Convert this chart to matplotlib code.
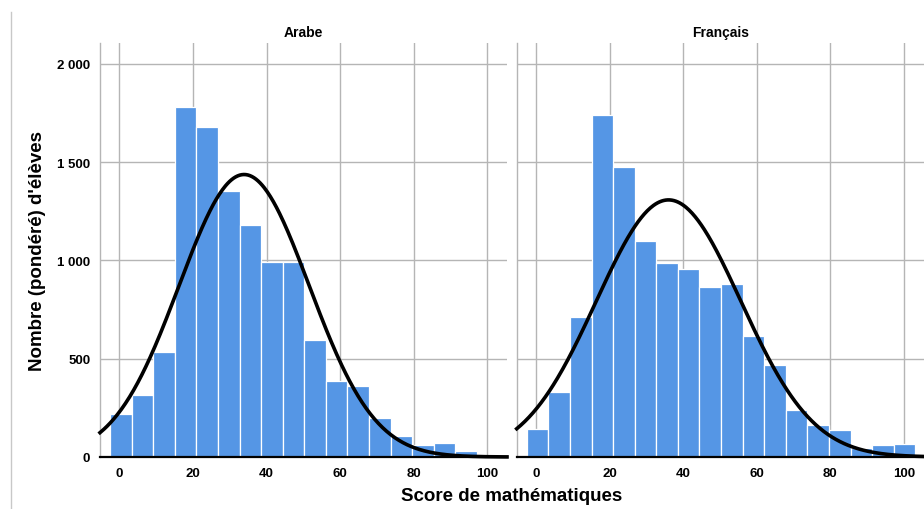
#!/usr/bin/env python
# -*- coding: utf-8 -*-
# Histogrammes des scores de mathématiques par langue, avec courbe normale

import numpy as np
import matplotlib.pyplot as plt
from matplotlib.lines import Line2D

plt.rcParams['font.family'] = ['Liberation Sans', 'DejaVu Sans']

## data
BIN_START = -2.55
BIN_WIDTH = 5.87

arabe_counts = [219, 316, 536, 1783, 1681, 1352, 1181, 991, 994, 595,
                385, 361, 198, 109, 63, 70, 31]
francais_counts = [142, 329, 710, 1739, 1478, 1100, 985, 956, 863, 880,
                   617, 468, 239, 164, 137, 44, 61, 66]

arabe_mean, arabe_sd = 33.9, 17.7
francais_mean, francais_sd = 36.0, 19.65

panel_titles = ["Arabe", "Français"]
x_ticks = [0, 20, 40, 60, 80, 100]
y_ticks = [0, 500, 1000, 1500, 2000]
y_ticklabels = ["0", "500", "1 000", "1 500", "2 000"]

BAR_COLOR = "#5596e5"
GRID_COLOR = "#b5b5b5"
XLIM = (-5.3, 105.4)
YLIM = (0, 2107)


def draw_panel(ax, counts, mean, sd, title, show_y):
    edges = BIN_START + BIN_WIDTH * np.arange(len(counts) + 1)
    ax.bar(edges[:-1], counts, width=BIN_WIDTH, align="edge",
           color=BAR_COLOR, edgecolor="white", linewidth=0.9, zorder=2)

    # normal curve scaled to counts
    n = sum(counts)
    x = np.linspace(XLIM[0], XLIM[1], 400)
    y = n * BIN_WIDTH * np.exp(-0.5 * ((x - mean) / sd) ** 2) / (sd * np.sqrt(2 * np.pi))
    ax.plot(x, y, color="black", linewidth=2.6, zorder=3, clip_on=False)

    ax.set_xlim(*XLIM)
    ax.set_ylim(*YLIM)
    ax.set_xticks(x_ticks)
    ax.set_yticks(y_ticks)
    ax.grid(True, color=GRID_COLOR, linewidth=1.0, zorder=0)
    ax.set_axisbelow(True)
    ax.tick_params(length=0, pad=7, labelsize=9.5)
    for lab in ax.get_xticklabels():
        lab.set_fontweight("bold")
    if show_y:
        ax.set_yticklabels(y_ticklabels, fontweight="bold")
    else:
        ax.set_yticklabels([])

    for s in ["top", "right"]:
        ax.spines[s].set_visible(False)
    ax.spines["left"].set_color(GRID_COLOR)
    ax.spines["left"].set_linewidth(1.0)
    ax.spines["bottom"].set_color("black")
    ax.spines["bottom"].set_linewidth(1.6)
    ax.set_title(title, fontsize=10, fontweight="bold", pad=5)


fig = plt.figure(figsize=(9.24, 5.10), dpi=100)
ax1 = fig.add_axes([0.1082, 0.102, 0.4405, 0.8118])
ax2 = fig.add_axes([0.5592, 0.102, 0.4405, 0.8118])

draw_panel(ax1, arabe_counts, arabe_mean, arabe_sd, panel_titles[0], True)
draw_panel(ax2, francais_counts, francais_mean, francais_sd, panel_titles[1], False)

fig.text(38 / 924, 0.508, "Nombre (pondéré) d'élèves", rotation=90,
         ha="center", va="center", fontsize=13.5, fontweight="bold")
fig.text(512 / 924, 1 - 497 / 510, "Score de mathématiques",
         ha="center", va="center", fontsize=13.5, fontweight="bold")

# frame border on the left
fig.add_artist(Line2D([11 / 924, 11 / 924], [0, 1 - 13 / 510],
                      color="#c8c8c8", linewidth=1.0))

plt.savefig("out.png", dpi=100)
plt.close()
